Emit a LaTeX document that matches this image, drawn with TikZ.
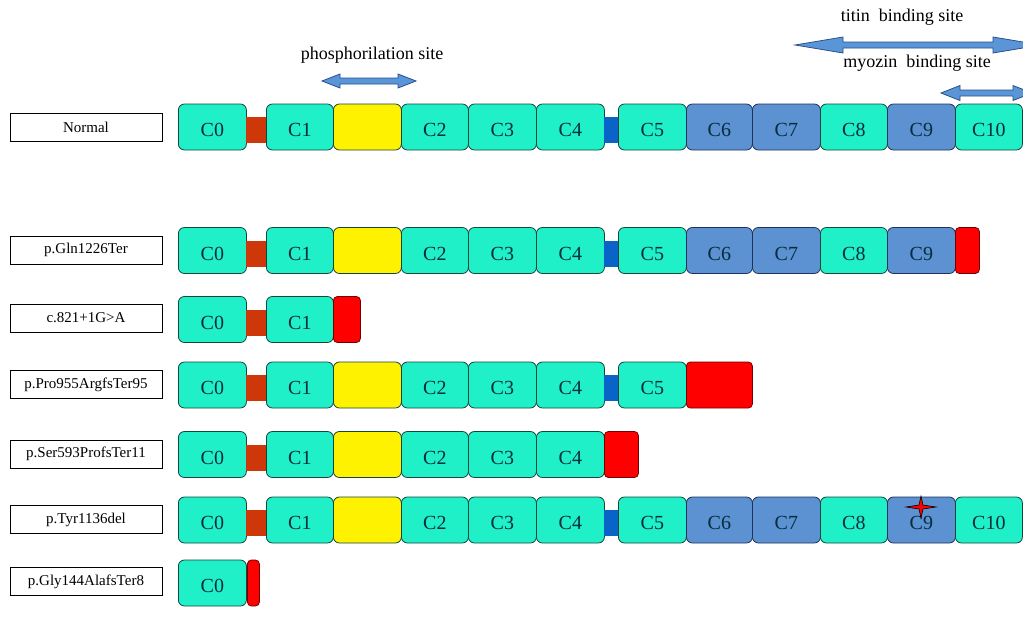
\documentclass[tikz,border=0pt]{standalone}
\usepackage{fontspec}
\setmainfont{Liberation Serif}

\definecolor{aqua}{RGB}{32,240,200}
\definecolor{aqualine}{RGB}{20,70,60}
\definecolor{steel}{RGB}{92,145,210}
\definecolor{steelline}{RGB}{30,50,90}
\definecolor{linkred}{RGB}{205,55,10}
\definecolor{linkblue}{RGB}{10,100,200}
\definecolor{domtext}{RGB}{5,45,60}
\definecolor{arrowfill}{RGB}{90,150,215}
\definecolor{arrowline}{RGB}{40,80,140}

% block double arrow: x1, x2, y, head length, head half height
\newcommand{\sitearrow}[5]{%
  \draw[fill=arrowfill, draw=arrowline, line width=0.8pt]
    (#1,#3) -- ({#1+#4},{#3-#5}) -- ({#1+#4},{#3-3}) -- ({#2-#4},{#3-3})
    -- ({#2-#4},{#3-#5}) -- (#2,#3) -- ({#2-#4},{#3+#5}) -- ({#2-#4},{#3+3})
    -- ({#1+#4},{#3+3}) -- ({#1+#4},{#3+#5}) -- cycle;}

\begin{document}
\begin{tikzpicture}[x=1pt,y=-1pt,
  dom/.style={draw=aqualine, fill=aqua, line width=0.8pt, rounded corners=6pt, anchor=west,
    minimum height=46pt, inner sep=0pt, text=domtext, text height=19.2pt, text depth=0pt,
    font=\fontsize{20}{20}\selectfont},
  domb/.style={dom, draw=steelline, fill=steel},
  yel/.style={dom, fill=yellow},
  term/.style={dom, draw=red!45!black, fill=red, rounded corners=4pt},
  lnk/.style={anchor=west, minimum height=26pt, inner sep=0pt, fill=linkred, yshift=-3pt},
  lnkb/.style={lnk, fill=linkblue},
  lab/.style={draw, line width=0.8pt, minimum width=152pt, minimum height=28pt, inner sep=0pt,
    font=\fontsize{15}{15}\selectfont},
  site/.style={font=\fontsize{18}{18}\selectfont}]

\fill[white] (0,0) rectangle (1023,630);
\useasboundingbox (0,0) rectangle (1023,630);

    \node[site] (phos) at (372,55) {phosphorilation site};
    \node[site] (titin) at (902,17) {titin\ \ binding site};
    \node[site] (myo) at (917,63) {myozin\ \ binding site};
    \sitearrow{322}{416}{81}{18}{7}
    \sitearrow{795}{1041}{45}{48}{8}
    \sitearrow{941}{1032}{93}{19}{7.5}

    % Normal
    \node[lab] (l1) at (86,127) {Normal};
    \foreach \x/\w/\k/\t [count=\i] in {178/68/dom/C0,246/20/lnk/{},266/67/dom/C1,333/68/yel/{},
      401/67/dom/C2,468/68/dom/C3,536/68/dom/C4,604/14/lnkb/{},618/68/dom/C5,686/66/domb/C6,
      752/68/domb/C7,820/67/dom/C8,887/68/domb/C9,955/67/dom/C10}{
    \node[\k, minimum width=\w pt] (n\i) at (\x,127) {\t};
}

    % p.Gln1226Ter
    \node[lab] (l2) at (86,250) {p.Gln1226Ter};
    \foreach \x/\w/\k/\t [count=\i] in {178/68/dom/C0,246/20/lnk/{},266/67/dom/C1,333/68/yel/{},
      401/67/dom/C2,468/68/dom/C3,536/68/dom/C4,604/14/lnkb/{},618/68/dom/C5,686/66/domb/C6,
      752/68/domb/C7,820/67/dom/C8,887/68/domb/C9,955/24/term/{}}{
    \node[\k, minimum width=\w pt] (g\i) at (\x,250.5) {\t};
}

    % c.821+1G>A
    \node[lab] (l3) at (86,318) {c.821+1G>A};
    \foreach \x/\w/\k/\t [count=\i] in {178/68/dom/C0,246/20/lnk/{},266/67/dom/C1,333/27/term/{}}{
    \node[\k, minimum width=\w pt] (c\i) at (\x,319.5) {\t};
}

    % p.Pro955ArgfsTer95
    \node[lab] (l4) at (86,384.5) {p.Pro955ArgfsTer95};
    \foreach \x/\w/\k/\t [count=\i] in {178/68/dom/C0,246/20/lnk/{},266/67/dom/C1,333/68/yel/{},
      401/67/dom/C2,468/68/dom/C3,536/68/dom/C4,604/14/lnkb/{},618/68/dom/C5,686/66/term/{}}{
    \node[\k, minimum width=\w pt] (p\i) at (\x,385) {\t};
}

    % p.Ser593ProfsTer11
    \node[lab] (l5) at (86,454) {p.Ser593ProfsTer11};
    \foreach \x/\w/\k/\t [count=\i] in {178/68/dom/C0,246/20/lnk/{},266/67/dom/C1,333/68/yel/{},
      401/67/dom/C2,468/68/dom/C3,536/68/dom/C4,604/34/term/{}}{
    \node[\k, minimum width=\w pt] (s\i) at (\x,454.5) {\t};
}

    % p.Tyr1136del
    \node[lab] (l6) at (86,519.5) {p.Tyr1136del};
    \foreach \x/\w/\k/\t [count=\i] in {178/68/dom/C0,246/20/lnk/{},266/67/dom/C1,333/68/yel/{},
      401/67/dom/C2,468/68/dom/C3,536/68/dom/C4,604/14/lnkb/{},618/68/dom/C5,686/66/domb/C6,
      752/68/domb/C7,820/67/dom/C8,887/68/domb/C9,955/67/dom/C10}{
    \node[\k, minimum width=\w pt] (t\i) at (\x,520) {\t};
}
    % deletion mark on C9
    \draw[fill=red, draw=black, line width=0.6pt] (906,507) -- (919,505) -- (921,496) -- (923,505)
      -- (936,507) -- (923,509) -- (921,518) -- (919,509) -- cycle;

    % p.Gly144AlafsTer8
    \node[lab] (l7) at (86,581.5) {p.Gly144AlafsTer8};
    \foreach \x/\w/\k/\t [count=\i] in {178/68/dom/C0,247/12/term/{}}{
    \node[\k, minimum width=\w pt] (y\i) at (\x,583) {\t};
}

\end{tikzpicture}
\end{document}
